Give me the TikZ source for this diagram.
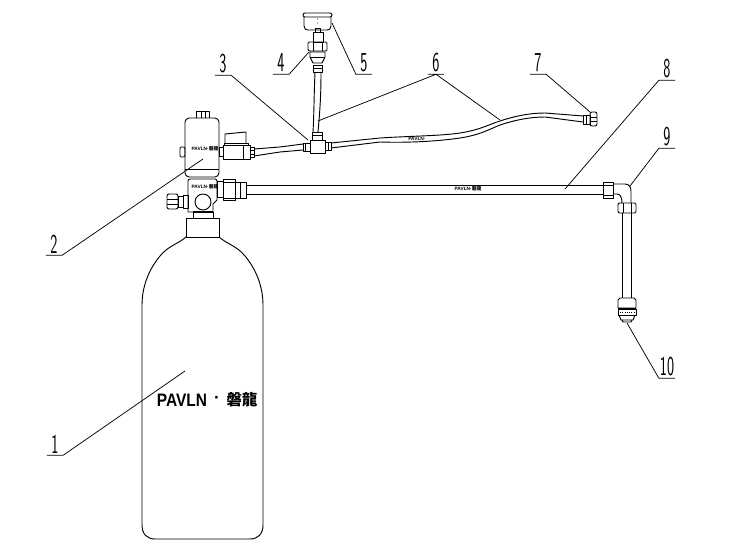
\documentclass[tikz,border=0pt]{standalone}
\usepackage{fontspec}
\usepackage{tikz}
\setmainfont{Liberation Sans}
\newfontfamily\cjkfont{Noto Sans CJK TC}
\usetikzlibrary{positioning,calc}
\tikzset{
  part/.style={line width=0.7pt,line join=round},
  lead/.style={line width=0.55pt},
  num/.style={inner sep=0pt,xscale=0.55,minimum width=21.8pt,minimum height=16.5pt,font=\sffamily\fontsize{20.5}{20.5}\selectfont},
  stamp/.style={inner sep=0pt,font=\bfseries\fontsize{3.6}{4}\selectfont},
}
\begin{document}
\begin{tikzpicture}[x=0.75pt,y=0.75pt,yscale=-1,xscale=1]
        \useasboundingbox (0,0) rectangle (731,549);
        %Bottle
        \draw[part] (186,218) rectangle (219,237);
        \draw[part] (186,237) .. controls (178,244) and (168,246) .. (160,256) .. controls (150,268) and (142,285) .. (142,305) -- (142,525)
            .. controls (142,534) and (147,539) .. (155,539) -- (250,539) .. controls (258,539) and (263,534) .. (263,525) -- (263,305)
            .. controls (263,285) and (255,268) .. (245,256) .. controls (237,246) and (227,244) .. (219,237);
        \draw[part,line width=1.4pt] (193,212) -- (213,212);
        \draw[part] (193,212) -- (193,218) (213,212) -- (213,218);
        %Lower valve block
        \draw[part] (188,181) .. controls (188,180) and (189,179) .. (190,179) -- (215,179) .. controls (216,179) and (217,180) .. (217,181) -- (217,200)
            -- (213,204) -- (213,212) -- (188,212) -- cycle;
        \draw[part] (203,202) circle (8);
        \draw[part] (217,181) rectangle (223,197);
        \draw[part] (223,179) rectangle (235,200);
        \draw[part] (223,182) -- (235,182) (223,198) -- (235,198);
        \draw[part] (235,182) rectangle (246,198);
        \draw[part] (240,182) -- (240,198);
        \draw[part] (183,195) rectangle (188,208);
        \draw[part] (178,196) rectangle (183,207);
        \draw[part,rounded corners=1.5pt] (167,194) rectangle (178,209);
        \draw[part] (167,199) -- (178,199) (167,204) -- (178,204);
        %Upper valve body
        \draw[part] (185,122) .. controls (185,120) and (187,118) .. (189,118) -- (215,118) .. controls (217,118) and (219,120) .. (219,122) -- (219,173)
            .. controls (219,175) and (217,177) .. (215,177) -- (189,177) .. controls (187,177) and (185,175) .. (185,173) -- cycle;
        \draw[part] (185,169) -- (219,169);
        \draw[part] (196,118) -- (196,111) -- (209,111) -- (209,118) (201,111) -- (201,118) (205,111) -- (205,118);
        \draw[part,rounded corners=1pt] (180,147) rectangle (185,157);
        %Ball valve
        \draw[part] (219,147) rectangle (223,156);
        \draw[part] (223,145) rectangle (250,159);
        \draw[part] (243,145) -- (243,159);
        \draw[part] (250,147) rectangle (254,157);
        \draw[part] (250,150) -- (254,150) (250,154) -- (254,154);
        \draw[part] (224,145) -- (224,143) -- (248,143) -- (248,145);
        \draw[part] (225,143) -- (225,134) -- (246,132) -- (246,143);
        %Hose to the tee
        \draw[part] (254,149) -- (280,147) -- (303,144) (254,156) -- (280,152) -- (303,150);
        %Tee
        \draw[part] (310,140) rectangle (325,153);
        \draw[part] (303,143) rectangle (310,151);
        \draw[part] (305,143) -- (305,151);
        \draw[part] (325,142) rectangle (331,150);
        \draw[part] (328,142) -- (328,150);
        \draw[part] (312,132) rectangle (322,140);
        \draw[part] (312,135) -- (322,135);
        %Gauge stem
        \draw[part] (313,132) .. controls (314,115) and (314,95) .. (315,72);
        \draw[part] (318,132) .. controls (320,110) and (321,95) .. (321,72);
        \draw[part] (313,65) rectangle (322,72);
        \draw[part] (313,68) -- (322,68);
        \draw[part] (310,52) -- (325,52) -- (325,57) -- (322,63) -- (313,63) -- (310,57) -- cycle;
        \draw[part] (310,57) -- (325,57);
        \draw[part,rounded corners=1pt] (308,42) rectangle (327,51);
        \draw[part] (313,42) -- (313,51) (322,42) -- (322,51);
        \draw[part] (313,32) rectangle (323,42);
        \draw[part] (315,28) rectangle (320,32);
        %Gauge
        \draw[part,rounded corners=1.5pt] (303,13) rectangle (332,17);
        \draw[part] (304,17) -- (304,26) .. controls (304,29) and (306,30) .. (308,30) -- (327,30) .. controls (329,30) and (331,29) .. (331,26) -- (331,17);
        \fill (317.5,19) circle (0.5) (317.5,23) circle (0.5);
        %Flexible hose
        \draw[part] (331,143) -- (380,138) .. controls (410,136) and (440,136) .. (460,133) .. controls (480,130) and (490,124) .. (500,121)
            .. controls (515,116) and (530,113) .. (545,113) -- (583,116);
        \draw[part] (331,148) -- (380,142) .. controls (410,143) and (440,141) .. (460,138) .. controls (480,135) and (490,129) .. (500,125)
            .. controls (515,120) and (530,117) .. (545,117) -- (583,122);
        \draw[part] (583,115) rectangle (590,124);
        \draw[part] (586,115) -- (586,124);
        \draw[part,rounded corners=1.5pt] (590,112) rectangle (597,126);
        \draw[part] (590,117) -- (597,117) (590,121) -- (597,121);
        %Long pipe and elbow
        \draw[part] (246,185) -- (603,185) (246,194) -- (603,194);
        \draw[part] (603,182) rectangle (613,198);
        \draw[part] (603,185) -- (613,185) (603,195) -- (613,195);
        \draw[part] (613,184) -- (625,184) .. controls (629,184) and (631,187) .. (631,191) -- (631,203);
        \draw[part] (613,194) -- (617,194) .. controls (620,194) and (622,197) .. (622,203);
        \draw[part,rounded corners=1pt] (618,203) rectangle (636,213);
        \draw[part] (623,203) -- (623,213) (631,203) -- (631,213);
        \draw[part] (622,213) -- (622,298) (631,213) -- (631,298);
        %Nozzle
        \draw[part] (620,298) -- (634,298) -- (636,300) -- (636,308) -- (618,308) -- (618,300) -- cycle;
        \draw[part,line width=1.3pt] (618,309) -- (636,309);
        \draw[part] (618,309) rectangle (636,315);
        \draw[part,densely dotted] (620,312) -- (634,312);
        \draw[part] (619,315) -- (621,320) -- (633,320) -- (635,315);
        \draw[part] (622,320) -- (623,322) -- (631,322) -- (632,320);
        %Printed texts
        \node[stamp] (stampTop) at (205,149) {PAVLN·{\cjkfont 磐龍}};
        \node[stamp] (stampBlock) at (205,187) {PAVLN·{\cjkfont 磐龍}};
        \node[stamp] (stampPipe) at (468,189) {PAVLN·{\cjkfont 磐龍}};
        \node[stamp,rotate=-2] (stampHose) at (417,139) {PAVLN·};
        \node[inner sep=0pt,xscale=0.86,font=\bfseries\fontsize{13.5}{14}\selectfont] (brand) at (182,400) {PAVLN};
        \node[inner sep=0pt,font=\bfseries\fontsize{13}{14}\selectfont] (brandDot) at (217,400) {·};
        \node[inner sep=0pt,font=\cjkfont\bfseries\fontsize{11.5}{14}\selectfont] (brandCn) at (242,400) {磐龍};
        %Numbers
        \node[num] (n1) at (55,444) {1};
        \node[num] (n2) at (54,244) {2};
        \node[num] (n3) at (223,64) {3};
        \node[num] (n4) at (281,63) {4};
        \node[num] (n5) at (364,63) {5};
        \node[num] (n6) at (436,63) {6};
        \node[num] (n7) at (538,63) {7};
        \node[num] (n8) at (667,69) {8};
        \node[num] (n9) at (667,137) {9};
        \node[num] (n10) at (667,367) {10};
        %Leaders
        \coordinate (tip1) at (185,371);
        \coordinate (tip2) at (203,159);
        \coordinate (tip3) at (308,140);
        \coordinate (tip4) at (309,52);
        \coordinate (tip5) at (332,23);
        \coordinate (tip6a) at (318,121);
        \coordinate (tip6b) at (500,120);
        \coordinate (tip7) at (590,112);
        \coordinate (tip8) at (565,189);
        \coordinate (tip9) at (630,186);
        \coordinate (tip10) at (627,323);
        \draw[lead] (n1.south west) -- (n1.south east) -- (tip1);
        \draw[lead] (n2.south west) -- (n2.south east) -- (tip2);
        \draw[lead] (n3.south west) -- (n3.south east) -- (tip3);
        \draw[lead] (n4.south west) -- (n4.south east) -- (tip4);
        \draw[lead] (n5.south east) -- (n5.south west) -- (tip5);
        \draw[lead] (n6.south west) -- (n6.south east) (n6.south) -- (tip6a) (n6.south) -- (tip6b);
        \draw[lead] (n7.south west) -- (n7.south east) -- (tip7);
        \draw[lead] (n8.south east) -- (n8.south west) -- (tip8);
        \draw[lead] (n9.south east) -- (n9.south west) -- (tip9);
        \draw[lead] (n10.south east) -- (n10.south west) -- (tip10);
\end{tikzpicture}
\end{document}
